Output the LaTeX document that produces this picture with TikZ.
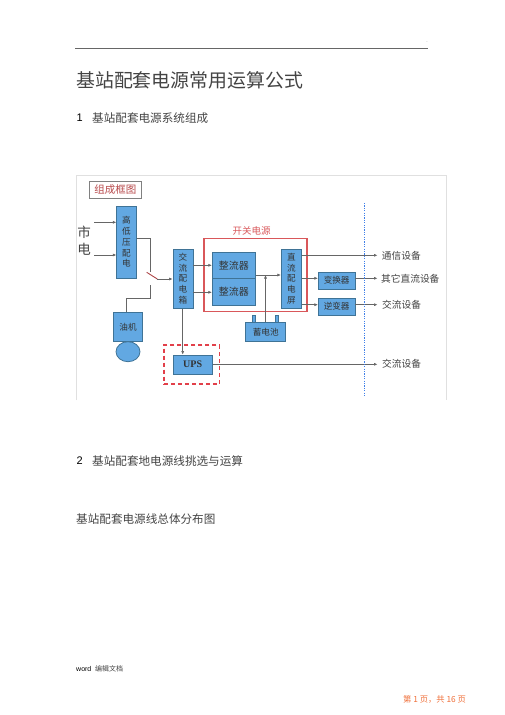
\documentclass[tikz,border=0pt]{standalone}
\usepackage{fontspec}
\usetikzlibrary{arrows.meta,shapes.geometric}
\setmainfont{Liberation Sans}
\newfontfamily\cjk{Noto Sans CJK SC}
\newfontfamily\serifbold{Liberation Serif}
\definecolor{boxblue}{HTML}{62A8E2}
\definecolor{boxedge}{HTML}{3F7396}
\definecolor{redframe}{HTML}{D9575A}
\definecolor{dashred}{HTML}{E2404A}
\definecolor{wire}{HTML}{666666}
\definecolor{txt}{HTML}{444444}
\definecolor{sepblue}{HTML}{3F7FE8}
\definecolor{pageorange}{HTML}{F0703A}
\tikzset{
  x=1pt,y=-1pt,
  unit/.style={draw=boxedge,fill=boxblue,line width=0.8pt,inner sep=0pt,text=black!80,align=center,font=\cjk\fontsize{8.6}{10.7}\selectfont},
  wireline/.style={draw=wire,line width=0.6pt},
  feed/.style={wireline,-{Latex[length=3.5pt,width=3pt]}},
  outlabel/.style={anchor=west,inner sep=0pt,text=txt,font=\cjk\fontsize{9.7}{11}\selectfont},
  body/.style={anchor=west,inner sep=0pt,text=txt,font=\cjk\fontsize{11.6}{13}\selectfont},
  numeral/.style={anchor=west,inner sep=0pt,text=black,font=\fontsize{11}{13}\selectfont}
}
\newcommand{\bx}[5][]{\node[unit,#1,minimum width=(#4)-(#2),minimum height=(#5)-(#3)] at ({((#2)+(#4))/2},{((#3)+(#5))/2})}
\begin{document}
\begin{tikzpicture}
\useasboundingbox (0,0) rectangle (505,715);
\fill[white] (0,0) rectangle (505,715);
% page furniture
\coordinate (ruleL) at (75,48.3); \coordinate (ruleR) at (428,48.3);
\draw[wire,line width=0.6pt] (ruleL) -- (ruleR);
\node[anchor=center,inner sep=0pt,text=gray,font=\fontsize{5}{6}\selectfont] (dot) at (427,42) {.};
\node[body,font=\cjk\fontsize{18.9}{21}\selectfont] (title) at (76,80) {基站配套电源常用运算公式};
\node[numeral] (n1) at (76.5,118) {1};
\node[body] (h1) at (92,118) {基站配套电源系统组成};
\node[numeral] (n2) at (76.5,461) {2};
\node[body] (h2) at (92,461) {基站配套地电源线挑选与运算};
\node[body] (h3) at (76,519) {基站配套电源线总体分布图};
\node[anchor=west,inner sep=0pt,text=black,font=\fontsize{7}{8}\selectfont] (word) at (76,668.5) {word};
\node[anchor=west,inner sep=0pt,text=txt,font=\cjk\fontsize{7}{8}\selectfont] (edit) at (95,668.5) {编辑文档};
\node[anchor=west,inner sep=0pt,text=pageorange,font=\cjk\fontsize{8.3}{9}\selectfont] (page) at (403,699) {第 1 页，共 16 页};
% image frame
\draw[black!12,line width=0.5pt] (76,400) -- (76,175) -- (446,175) -- (446,400);
% title tag
\node[draw=black!50,fill=white,line width=0.6pt,minimum width=52pt,minimum height=16.6pt,inner sep=0pt,text=redframe!85!black,font=\cjk\fontsize{10.5}{12}\selectfont] (tag) at (115.3,190) {组成框图};
\node[inner sep=0pt,text=txt,align=center,font=\cjk\fontsize{13.5}{16.5}\selectfont] (city) at (84,240.5) {市\\电};
% red frames
\node[draw=redframe,line width=1.1pt,minimum width=103pt,minimum height=72.6pt,inner sep=0pt] (sw) at (255.5,275) {};
\node[inner sep=0pt,text=redframe,font=\cjk\fontsize{9.5}{11}\selectfont] (swlabel) at (251.5,231) {开关电源};
\node[draw=dashred,dash pattern=on 4pt off 3pt,line width=1.2pt,minimum width=55.7pt,minimum height=39pt,inner sep=0pt] (upsframe) at (191.8,364.5) {};
% units
\bx{116.3}{206}{136.3}{278} (hv) {高\\低\\压\\配\\电};
\bx{173}{249}{193}{308.3} (ac) {交\\流\\配\\电\\箱};
\bx{212.3}{252.3}{255.3}{278.7} (r1) {\fontsize{10}{12}\selectfont 整流器};
\bx{212.3}{278.7}{255.3}{305} (r2) {\fontsize{10}{12}\selectfont 整流器};
\bx{281.3}{249}{301.7}{308.3} (dc) {直\\流\\配\\电\\屏};
\bx{318.3}{272.3}{355}{289} (conv) {变换器};
\bx{318.3}{298.3}{355}{315} (inv) {逆变器};
\bx{173}{355}{212.3}{374.3} (ups) {\serifbold\bfseries\fontsize{10}{12}\selectfont UPS};
\bx{113.3}{312.3}{142.7}{341.7} (gen) {油机};
\bx{245.7}{322}{285.7}{341.7} (bat) {蓄电池};
\bx{252}{315}{255.3}{322} (tL) {};
\bx{275}{315}{278.3}{322} (tR) {};
\node[draw=boxedge,fill=boxblue,line width=0.8pt,ellipse,minimum width=24pt,minimum height=20pt,inner sep=0pt] (motor) at (128,351.7) {};
% free-end coordinates
\coordinate (in1) at (94,222.3); \coordinate (hv1) at (116.3,222.3);
\coordinate (in2) at (94,255); \coordinate (hv2) at (116.3,255);
\coordinate (swA) at (146.7,272.3); \coordinate (swB) at (157.3,279);
\coordinate (swC) at (150,285);
\coordinate (j) at (265.5,275);
\coordinate (dot1) at (377.5,255.3);
\coordinate (dot2) at (377.5,278.3);
\coordinate (dot3) at (377.5,304.7);
\coordinate (dot4) at (377.5,364.3);
\coordinate (sepT) at (364.3,203); \coordinate (sepB) at (364.3,397);
% connectors
\draw[feed] (in1) -- (hv1);
\draw[feed] (in2) -- (hv2);
\draw[wireline] (hv.east |- 0,238.3) -| (150,271.5);
\draw[draw=redframe!80!black,line width=0.9pt] (swA) -- (swB);
\draw[feed] (swB) -- (ac.west |- swB);
\draw[wireline] (swC) |- (126.7,298.3) -- (gen.north -| 126.7,0);
\draw[feed] (ac.east |- 0,265.3) -- (r1.west |- 0,265.3);
\draw[feed] (ac.east |- 0,292.3) -- (r2.west |- 0,292.3);
\draw[feed] (r1.east |- j) -- (dc.west |- j);
\draw[feed] (bat.north -| j) -- (j);
\draw[feed] (ac.south -| 182.7,0) -- (ups.north -| 182.7,0);
\draw[feed] (dc.east |- dot1) -- (dot1);
\draw[feed] (dc.east |- dot2) -- (conv.west |- dot2);
\draw[feed] (dc.east |- dot3) -- (inv.west |- dot3);
\draw[feed] (conv.east |- dot2) -- (dot2);
\draw[feed] (inv.east |- dot3) -- (dot3);
\draw[feed] (ups.east |- dot4) -- (dot4);
\draw[sepblue,line width=1.2pt,dash pattern=on 1.2pt off 1.2pt] (sepT) -- (sepB);
% outputs
\node[outlabel] (o1) at (381.7,255.7) {通信设备};
\node[outlabel] (o2) at (381,278.5) {其它直流设备};
\node[outlabel] (o3) at (382,305) {交流设备};
\node[outlabel] (o4) at (382,363.7) {交流设备};
\end{tikzpicture}
\end{document}
